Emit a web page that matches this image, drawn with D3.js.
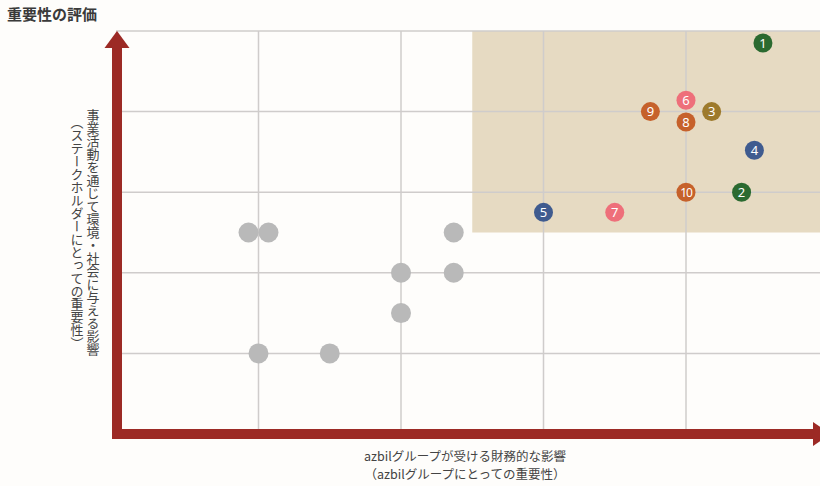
<!DOCTYPE html>
<html>
<head>
<meta charset="utf-8">
<script src="https://d3js.org/d3.v7.min.js"></script>
<style>
  body { margin: 0; background: #fefdfb; }
  svg { display: block; font-family: "Noto Sans CJK JP", "Noto Sans", sans-serif; }
</style>
</head>
<body>
<svg id="chart" width="820" height="486"></svg>
<script>
// numbered issues (materiality items)
var itemLabels = ["1", "2", "3", "4", "5", "6", "7", "8", "9", "10"];
var itemX      = [4.54, 4.39, 4.18, 4.48, 3.0, 4.0, 3.5, 4.0, 3.75, 4.0];
var itemY      = [4.85, 3.0, 4.0, 3.52, 2.75, 4.14, 2.75, 3.87, 4.0, 3.0];
var itemColors = ["#2b6a30", "#2b6a30", "#9d7a2c", "#3f5b8f", "#3f5b8f",
                  "#ee6f7a", "#ee6f7a", "#c6612b", "#c6612b", "#c6612b"];

// grey (unnumbered) items
var greyX = [0.93, 1.07, 2.37, 2.0, 2.37, 2.0, 1.0, 1.5];
var greyY = [2.5, 2.5, 2.5, 2.0, 2.0, 1.5, 1.0, 1.0];

var gridTicks = [0, 1, 2, 3, 4, 5];
var highZone = {x: 2.5, y: 2.5};

var title = "重要性の評価";
var yTitle = ["事業活動を通じて環境・社会に与える影響", "（ステークホルダーにとっての重要性）"];
var xTitle = ["azbilグループが受ける財務的な影響", "（azbilグループにとっての重要性）"];

var svg = d3.select("#chart");

var x = d3.scaleLinear().domain([0, 5]).range([116, 828.5]);
var y = d3.scaleLinear().domain([0, 5]).range([434, 31]);

// shaded high-importance zone
svg.append("rect")
  .attr("x", x(highZone.x))
  .attr("y", y(5))
  .attr("width", x(5) - x(highZone.x))
  .attr("height", y(highZone.y) - y(5))
  .attr("fill", "#e6dac2");

// grid
svg.append("g").selectAll("line.v")
  .data(gridTicks.slice(1))
  .enter().append("line")
  .attr("x1", d => x(d)).attr("x2", d => x(d))
  .attr("y1", y(5)).attr("y2", y(0))
  .attr("stroke", "#cfcccb").attr("stroke-width", 1.5);

svg.append("g").selectAll("line.h")
  .data(gridTicks.slice(1))
  .enter().append("line")
  .attr("x1", x(0)).attr("x2", x(5))
  .attr("y1", d => y(d)).attr("y2", d => y(d))
  .attr("stroke", "#cfcccb").attr("stroke-width", 1.5);

// axis arrows
var red = "#9c2a25";
var ax = x(0) + 1, ay = y(0);
svg.append("rect")
  .attr("x", ax - 5).attr("y", y(5) + 16)
  .attr("width", 10).attr("height", ay + 5 - (y(5) + 16))
  .attr("fill", red);
svg.append("path")
  .attr("d", "M" + (ax - 12.5) + "," + (y(5) + 17) + "L" + ax + "," + y(5) + "L" + (ax + 12.5) + "," + (y(5) + 17) + "Z")
  .attr("fill", red);
svg.append("rect")
  .attr("x", ax - 5).attr("y", ay - 5)
  .attr("width", 814 - (ax - 5)).attr("height", 10)
  .attr("fill", red);
svg.append("path")
  .attr("d", "M813," + (ay - 12) + "L831," + ay + "L813," + (ay + 12) + "Z")
  .attr("fill", red);

// grey points
svg.append("g").selectAll("circle")
  .data(greyX)
  .enter().append("circle")
  .attr("cx", d => x(d))
  .attr("cy", (d, i) => y(greyY[i]))
  .attr("r", 10)
  .attr("fill", "#b9b9b9");

// numbered points
var pts = svg.append("g").selectAll("g")
  .data(itemLabels)
  .enter().append("g")
  .attr("transform", (d, i) => "translate(" + x(itemX[i]) + "," + y(itemY[i]) + ")");
pts.append("circle")
  .attr("r", 9.5)
  .attr("fill", (d, i) => itemColors[i]);
pts.append("text")
  .attr("text-anchor", "middle")
  .attr("dy", "0.36em")
  .attr("fill", "#fff")
  .style("font-family", "'Noto Sans', sans-serif")
  .style("font-size", d => d.length > 1 ? "12px" : "13px")
  .style("letter-spacing", d => d.length > 1 ? "-1px" : "0")
  .text(d => d);

// titles
svg.append("text")
  .attr("x", 7).attr("y", 20)
  .attr("fill", "#3a3a3a")
  .style("font-size", "15px")
  .style("font-weight", "bold")
  .text(title);

var yMid = (y(0) + y(5)) / 2;
svg.selectAll("text.ytitle")
  .data(yTitle)
  .enter().append("text")
  .attr("class", "ytitle")
  .attr("x", (d, i) => i === 0 ? 93 : 77)
  .attr("y", yMid)
  .attr("text-anchor", "middle")
  .style("writing-mode", "vertical-rl")
  .style("font-size", "13px")
  .attr("fill", "#444")
  .text(d => d);

svg.selectAll("text.xtitle")
  .data(xTitle)
  .enter().append("text")
  .attr("class", "xtitle")
  .attr("x", 465)
  .attr("y", (d, i) => 461 + i * 18)
  .attr("text-anchor", "middle")
  .style("font-size", "12.5px")
  .attr("fill", "#444")
  .text(d => d);
</script>
</body>
</html>
